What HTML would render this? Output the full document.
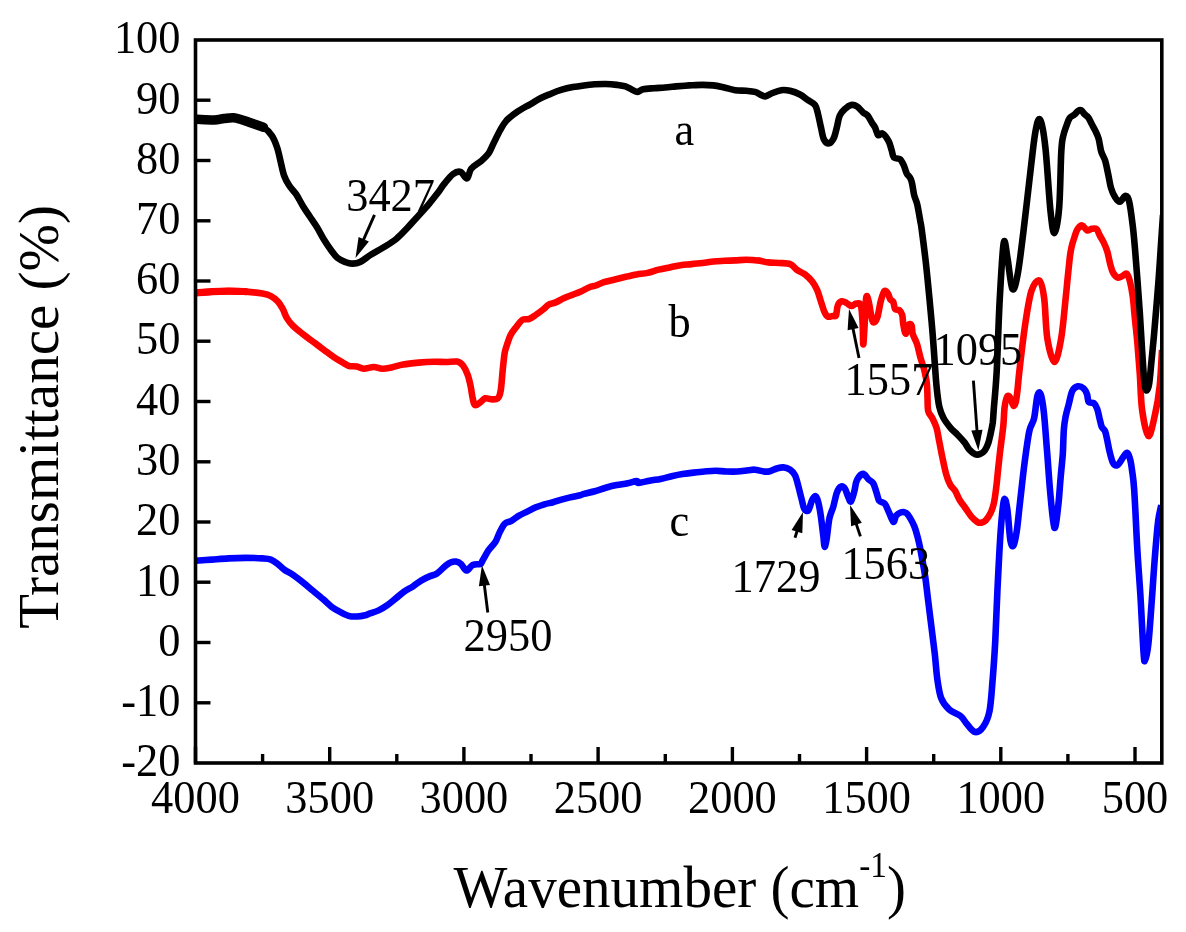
<!DOCTYPE html>
<html><head><meta charset="utf-8"><style>
html,body{margin:0;padding:0;background:#fff;}
svg{display:block;}
text{font-family:"Liberation Serif",serif;fill:#000;}
.tx{filter:grayscale(1);}
</style></head><body>
<svg width="1186" height="932" viewBox="0 0 1186 932">
<rect x="0" y="0" width="1186" height="932" fill="#fff"/>
<clipPath id="cp"><rect x="195.5" y="40.0" width="966.3" height="723.0"/></clipPath>
<g clip-path="url(#cp)"><path d="M195.5,560.8 C198.2,560.6 206.4,560.0 211.9,559.6 C217.4,559.2 223.1,558.7 228.7,558.4 C234.3,558.1 240.0,557.9 245.6,557.9 C251.2,557.9 258.3,558.1 262.5,558.4 C266.7,558.7 268.4,558.7 270.9,559.6 C273.4,560.5 275.4,562.1 277.6,563.8 C279.9,565.5 281.9,567.9 284.4,569.7 C286.9,571.5 289.7,572.7 292.8,574.8 C295.9,576.9 299.5,579.7 302.9,582.4 C306.3,585.1 309.6,588.0 313.0,590.8 C316.4,593.6 320.1,596.6 323.2,599.3 C326.3,602.0 328.8,604.7 331.6,606.8 C334.4,608.9 337.2,610.4 340.0,611.9 C342.8,613.4 345.7,615.0 348.5,615.8 C351.3,616.6 354.1,616.6 356.9,616.5 C359.7,616.4 363.1,615.8 365.3,615.3 C367.5,614.8 367.8,614.2 370.0,613.4 C372.2,612.6 375.7,611.8 378.6,610.4 C381.5,609.0 384.3,607.2 387.2,605.2 C390.1,603.2 392.9,600.7 395.8,598.4 C398.7,596.1 401.5,593.5 404.3,591.5 C407.1,589.5 410.0,588.3 412.9,586.4 C415.8,584.5 418.6,582.0 421.5,580.3 C424.4,578.6 427.5,577.2 430.1,576.1 C432.7,575.0 434.4,575.2 437.0,573.5 C439.6,571.8 443.2,567.6 445.5,565.8 C447.8,564.0 448.8,563.2 450.5,562.5 C452.2,561.8 454.1,561.2 455.8,561.5 C457.6,561.8 459.2,562.5 461.0,564.0 C462.8,565.5 464.6,570.4 466.5,570.5 C468.4,570.6 470.4,566.0 472.7,564.9 C475.0,563.8 478.8,564.7 480.4,564.0 C482.0,563.3 481.2,562.8 482.6,560.5 C484.0,558.2 486.5,553.3 488.6,550.2 C490.8,547.1 493.6,544.7 495.5,541.7 C497.4,538.7 498.1,535.2 499.7,532.2 C501.3,529.2 503.0,525.5 504.9,523.6 C506.8,521.8 508.6,522.4 510.9,521.1 C513.2,519.8 515.9,517.5 518.6,515.9 C521.3,514.3 524.3,513.0 527.2,511.6 C530.1,510.2 532.9,508.5 535.8,507.3 C538.7,506.1 541.5,505.2 544.4,504.3 C547.3,503.4 550.1,503.0 553.0,502.2 C555.9,501.4 558.6,500.4 561.5,499.6 C564.4,498.8 567.0,498.1 570.1,497.4 C573.2,496.7 577.7,495.9 580.0,495.3 C582.3,494.7 581.4,494.6 583.9,493.9 C586.4,493.2 591.1,492.2 594.8,491.2 C598.4,490.2 602.1,488.7 605.8,487.7 C609.5,486.7 613.1,485.8 616.8,485.1 C620.4,484.4 624.4,484.0 627.7,483.3 C631.0,482.6 634.7,481.2 636.5,481.1 C638.3,481.0 636.5,483.0 638.7,482.9 C640.9,482.8 646.0,481.4 649.6,480.7 C653.2,480.0 656.9,479.6 660.6,478.9 C664.3,478.2 668.0,477.1 671.6,476.3 C675.2,475.5 678.9,474.7 682.5,474.1 C686.1,473.5 689.8,473.0 693.5,472.6 C697.2,472.2 700.9,471.8 704.5,471.5 C708.1,471.2 711.8,470.8 715.4,470.8 C719.0,470.8 722.7,471.4 726.4,471.5 C730.1,471.6 733.8,471.7 737.4,471.5 C741.0,471.3 745.4,470.5 748.3,470.2 C751.2,469.9 752.3,469.5 754.9,469.7 C757.5,469.9 761.2,471.2 763.7,471.5 C766.2,471.8 767.8,471.7 770.0,471.2 C772.2,470.7 774.5,469.1 776.7,468.5 C779.0,467.9 781.2,467.2 783.5,467.4 C785.8,467.6 788.3,468.5 790.2,469.8 C792.1,471.1 793.6,472.5 795.0,475.2 C796.4,477.9 797.2,481.9 798.3,486.0 C799.4,490.1 800.7,495.7 801.7,499.5 C802.7,503.3 803.3,507.2 804.4,509.0 C805.5,510.8 807.2,511.7 808.4,510.3 C809.6,508.9 810.7,503.3 811.8,500.9 C812.9,498.5 814.2,496.1 815.2,496.1 C816.2,496.1 817.0,497.8 817.9,500.9 C818.8,503.9 819.7,508.6 820.6,514.4 C821.5,520.2 822.6,530.5 823.3,535.9 C824.0,541.3 824.0,546.2 824.6,546.7 C825.2,547.2 825.9,543.3 826.7,538.6 C827.5,533.9 828.3,523.8 829.4,518.4 C830.5,513.0 832.2,510.6 833.4,506.3 C834.6,502.0 835.6,496.1 836.8,492.8 C838.0,489.5 839.4,487.4 840.8,486.7 C842.1,486.0 843.7,487.0 844.9,488.7 C846.1,490.4 847.2,494.7 848.2,496.8 C849.2,498.9 849.9,502.4 850.9,501.5 C851.9,500.6 853.3,495.0 854.3,491.4 C855.3,487.8 855.5,482.9 857.0,480.0 C858.5,477.1 861.2,474.0 863.1,473.9 C865.0,473.8 866.8,477.7 868.5,479.3 C870.2,480.9 871.9,481.1 873.2,483.3 C874.6,485.6 875.6,489.9 876.6,492.8 C877.6,495.7 877.9,499.1 879.3,500.9 C880.6,502.7 883.1,501.8 884.7,503.6 C886.3,505.4 887.2,508.7 888.7,511.7 C890.2,514.7 892.2,521.1 893.4,521.8 C894.6,522.5 894.9,517.3 896.1,515.7 C897.4,514.1 899.2,512.8 900.9,512.3 C902.6,511.8 904.7,512.0 906.3,513.0 C907.9,514.0 908.9,516.1 910.3,518.4 C911.6,520.6 913.2,523.4 914.4,526.5 C915.6,529.6 916.7,533.5 917.7,537.3 C918.7,541.1 919.2,543.0 920.4,549.4 C921.6,555.8 923.8,567.2 925.1,575.9 C926.4,584.6 927.2,593.1 928.3,601.7 C929.4,610.3 930.4,618.8 931.5,627.4 C932.6,636.0 933.7,644.6 934.7,653.2 C935.7,661.8 936.2,671.4 937.3,678.9 C938.4,686.4 939.2,693.1 941.2,698.2 C943.2,703.3 946.0,706.5 949.2,709.5 C952.4,712.5 957.5,713.6 960.5,716.0 C963.5,718.4 964.5,721.3 966.9,724.0 C969.3,726.7 972.3,731.5 975.0,732.0 C977.7,732.5 980.6,730.7 983.0,727.2 C985.4,723.7 987.9,719.2 989.5,711.1 C991.1,703.0 991.7,690.7 992.7,678.9 C993.7,667.1 994.5,655.3 995.3,640.3 C996.1,625.3 996.6,607.0 997.5,588.8 C998.4,570.5 999.6,545.6 1000.7,530.8 C1001.8,516.0 1002.9,503.9 1004.0,500.2 C1005.1,496.4 1006.1,501.6 1007.2,508.3 C1008.3,515.0 1009.3,534.3 1010.4,540.5 C1011.5,546.7 1012.5,546.9 1013.6,545.3 C1014.7,543.7 1015.8,537.5 1016.8,530.8 C1017.8,524.1 1018.4,516.4 1019.7,505.2 C1021.0,494.0 1022.9,475.7 1024.5,463.4 C1026.1,451.1 1027.7,438.7 1029.3,431.2 C1030.9,423.7 1032.8,424.2 1034.1,418.3 C1035.4,412.4 1036.3,399.8 1037.4,395.8 C1038.5,391.8 1039.5,391.4 1040.6,394.1 C1041.7,396.8 1042.7,402.5 1043.8,411.9 C1044.9,421.3 1045.9,437.1 1047.0,450.5 C1048.1,463.9 1049.0,479.4 1050.2,492.3 C1051.4,505.2 1053.1,525.6 1054.4,527.8 C1055.8,529.9 1057.3,513.5 1058.3,505.2 C1059.3,496.9 1059.8,486.6 1060.6,478.0 C1061.3,469.4 1062.2,462.0 1062.8,453.9 C1063.3,445.8 1063.4,435.3 1063.9,429.1 C1064.4,422.9 1064.8,421.0 1065.6,416.7 C1066.4,412.4 1067.9,407.5 1069.0,403.2 C1070.1,398.9 1070.9,393.6 1072.4,390.8 C1073.9,388.0 1076.1,386.7 1078.0,386.3 C1079.9,385.9 1082.2,387.2 1083.7,388.5 C1085.2,389.8 1086.2,391.9 1087.0,394.2 C1087.8,396.4 1087.6,400.5 1088.7,402.0 C1089.8,403.5 1092.4,402.1 1093.8,403.2 C1095.2,404.3 1096.3,406.4 1097.2,408.8 C1098.1,411.2 1098.7,414.8 1099.4,417.8 C1100.2,420.8 1100.8,424.6 1101.7,426.8 C1102.7,429.1 1104.2,429.0 1105.1,431.3 C1106.0,433.6 1106.5,437.0 1107.3,440.4 C1108.0,443.8 1108.6,447.9 1109.6,451.6 C1110.5,455.4 1111.7,460.6 1113.0,462.9 C1114.3,465.1 1115.8,466.0 1117.5,465.1 C1119.2,464.2 1121.5,459.4 1123.1,457.3 C1124.7,455.2 1125.9,452.5 1127.0,452.7 C1128.1,452.9 1129.1,455.4 1129.9,458.4 C1130.8,461.4 1131.4,465.5 1132.1,470.8 C1132.8,476.1 1133.3,477.3 1134.2,490.0 C1135.1,502.7 1136.2,529.5 1137.2,547.1 C1138.2,564.7 1139.3,577.7 1140.4,595.4 C1141.5,613.1 1142.8,642.6 1143.6,653.3 C1144.4,664.0 1144.4,661.4 1145.2,659.8 C1146.0,658.2 1147.3,653.4 1148.4,643.7 C1149.5,634.0 1150.6,616.3 1151.7,601.8 C1152.8,587.3 1153.8,570.1 1154.9,556.7 C1156.0,543.3 1157.0,529.9 1158.1,521.3 C1159.2,512.7 1160.8,507.9 1161.3,505.2" stroke="#0000ff" stroke-width="6.6" fill="none" stroke-linejoin="round" stroke-linecap="butt"/><path d="M195.5,292.8 C198.2,292.6 206.4,291.9 211.9,291.6 C217.4,291.3 223.1,291.1 228.7,291.1 C234.3,291.1 240.0,291.2 245.6,291.6 C251.2,292.0 258.3,292.9 262.5,293.6 C266.7,294.4 268.4,294.8 270.9,296.1 C273.4,297.4 275.6,299.1 277.6,301.2 C279.6,303.3 281.1,306.0 282.7,308.8 C284.2,311.6 285.2,315.3 286.9,318.1 C288.6,320.9 290.1,322.9 292.8,325.6 C295.5,328.3 299.5,331.4 302.9,334.1 C306.3,336.8 309.6,339.2 313.0,341.7 C316.4,344.2 319.8,346.8 323.2,349.3 C326.6,351.8 330.2,354.7 333.3,356.8 C336.4,358.9 339.2,360.4 341.7,361.9 C344.2,363.4 346.0,365.0 348.5,365.8 C351.0,366.6 354.4,366.0 356.9,366.5 C359.4,367.0 360.8,368.6 363.6,368.7 C366.4,368.8 370.7,367.0 373.8,367.0 C376.9,367.0 379.2,368.6 382.2,368.7 C385.2,368.8 388.1,368.1 391.6,367.4 C395.1,366.7 398.7,365.3 403.2,364.5 C407.7,363.7 413.5,363.1 418.6,362.6 C423.8,362.2 429.6,361.9 434.1,361.8 C438.6,361.7 441.8,362.0 445.6,362.0 C449.5,362.0 454.3,361.0 457.2,361.6 C460.1,362.2 461.2,363.2 463.0,365.5 C464.8,367.8 466.5,371.6 467.8,375.1 C469.1,378.6 469.9,382.8 470.7,386.7 C471.5,390.6 472.0,395.2 472.7,398.3 C473.4,401.4 473.7,404.5 475.0,405.1 C476.3,405.8 478.7,403.3 480.4,402.2 C482.1,401.1 483.4,398.8 485.2,398.3 C487.0,397.8 488.9,399.3 491.0,399.3 C493.1,399.3 496.2,399.8 497.8,398.3 C499.4,396.9 499.9,395.1 500.7,390.6 C501.5,386.1 502.0,377.4 502.6,371.3 C503.2,365.2 503.9,357.9 504.5,353.9 C505.1,349.9 505.2,350.4 506.2,347.3 C507.2,344.2 508.8,338.6 510.5,335.2 C512.2,331.8 514.5,329.3 516.5,326.7 C518.5,324.1 520.4,321.1 522.5,319.8 C524.6,318.5 527.0,319.8 529.3,318.9 C531.6,318.0 533.9,316.2 536.2,314.6 C538.5,313.0 541.0,311.2 543.1,309.5 C545.2,307.8 547.1,305.4 549.1,304.3 C551.1,303.2 552.7,303.6 555.1,302.6 C557.5,301.6 560.8,299.6 563.7,298.3 C566.6,297.0 569.4,296.0 572.3,294.9 C575.1,293.8 577.9,292.8 580.8,291.5 C583.6,290.2 586.9,288.2 589.4,287.2 C591.9,286.2 593.6,286.4 596.0,285.5 C598.4,284.6 600.8,283.1 603.9,282.1 C607.0,281.1 611.1,280.4 614.8,279.5 C618.4,278.6 622.1,277.7 625.8,276.8 C629.5,275.9 633.1,275.0 636.8,274.4 C640.4,273.8 644.1,273.7 647.7,272.9 C651.4,272.1 655.1,270.5 658.7,269.6 C662.4,268.7 666.0,268.1 669.6,267.4 C673.2,266.7 676.9,265.8 680.6,265.2 C684.3,264.6 688.0,264.5 691.6,264.1 C695.2,263.7 698.9,263.4 702.5,263.0 C706.1,262.6 709.8,261.9 713.5,261.5 C717.2,261.1 720.9,261.0 724.5,260.8 C728.1,260.6 731.8,260.6 735.4,260.4 C739.0,260.2 742.7,259.7 746.4,259.7 C750.1,259.7 753.8,259.9 757.4,260.4 C761.0,260.8 764.6,262.0 768.3,262.4 C771.9,262.8 775.6,262.7 779.3,263.0 C782.9,263.3 787.2,262.9 790.2,264.1 C793.2,265.3 794.6,268.2 797.1,270.0 C799.6,271.8 802.8,272.7 805.3,274.7 C807.8,276.7 810.4,279.2 812.4,281.8 C814.4,284.4 815.8,287.0 817.2,290.1 C818.6,293.2 819.5,297.2 820.7,300.7 C821.9,304.2 823.0,308.6 824.2,311.3 C825.4,314.0 826.4,315.8 827.8,316.6 C829.2,317.4 831.1,316.2 832.5,316.0 C833.9,315.8 835.1,317.2 836.0,315.4 C836.9,313.6 836.8,307.8 837.8,305.4 C838.8,303.0 840.4,301.7 841.9,301.3 C843.4,300.9 845.1,302.3 846.7,303.1 C848.3,303.9 849.8,305.9 851.4,306.0 C853.0,306.1 854.5,303.7 856.1,303.6 C857.7,303.5 859.7,302.1 860.8,305.4 C861.9,308.6 862.2,316.6 862.6,323.1 C863.0,329.6 862.9,343.4 863.2,344.4 C863.5,345.4 863.9,336.7 864.4,329.0 C864.9,321.3 865.4,303.0 866.1,298.3 C866.8,293.6 867.6,297.6 868.5,300.7 C869.4,303.8 870.6,313.6 871.5,317.2 C872.4,320.8 872.8,322.5 873.8,322.5 C874.8,322.5 876.2,320.8 877.4,317.2 C878.6,313.6 879.7,305.0 880.9,300.7 C882.1,296.4 883.2,292.4 884.4,291.2 C885.6,290.0 887.0,292.2 888.0,293.6 C889.0,295.0 889.4,298.1 890.3,299.5 C891.2,300.9 892.5,300.3 893.3,301.9 C894.1,303.5 894.1,307.6 895.1,309.0 C896.1,310.4 898.0,309.1 899.2,310.1 C900.4,311.1 901.5,312.5 902.2,314.9 C902.9,317.3 902.7,321.2 903.3,324.3 C903.9,327.4 904.8,333.6 905.7,333.7 C906.6,333.8 907.6,326.3 908.6,324.9 C909.6,323.5 910.9,323.9 911.6,325.5 C912.3,327.1 911.9,331.1 912.8,334.2 C913.7,337.3 915.7,340.1 917.0,344.0 C918.3,347.9 919.3,353.7 920.5,357.9 C921.7,362.1 923.0,364.9 924.0,369.1 C925.0,373.3 926.2,378.5 926.8,383.1 C927.4,387.8 927.3,392.4 927.5,397.0 C927.7,401.6 927.4,407.5 928.2,411.0 C929.0,414.5 930.9,415.2 932.3,418.0 C933.7,420.8 935.3,423.9 936.5,427.8 C937.7,431.8 938.3,436.8 939.3,441.7 C940.3,446.6 941.1,451.6 942.3,457.0 C943.4,462.4 944.9,469.7 946.2,474.3 C947.5,478.9 948.8,482.1 950.3,484.9 C951.8,487.6 953.5,488.2 955.1,490.8 C956.7,493.4 958.0,497.2 959.8,500.2 C961.6,503.1 963.7,505.7 965.7,508.5 C967.7,511.3 969.6,514.5 971.6,516.8 C973.6,519.1 975.9,521.1 977.5,522.1 C979.1,523.1 979.6,523.0 981.0,522.7 C982.4,522.4 984.1,521.9 985.7,520.3 C987.3,518.7 989.1,516.2 990.5,513.2 C991.9,510.3 993.0,507.1 994.0,502.6 C995.0,498.1 995.7,491.6 996.4,486.1 C997.1,480.6 997.5,475.1 998.1,469.6 C998.7,464.1 999.3,458.1 999.9,453.0 C1000.5,447.9 1001.1,443.6 1001.7,438.9 C1002.3,434.2 1002.9,430.0 1003.4,424.7 C1003.9,419.4 1004.0,411.9 1004.6,407.3 C1005.2,402.7 1006.2,398.8 1007.0,397.0 C1007.8,395.2 1008.8,395.8 1009.5,396.5 C1010.2,397.2 1010.8,399.4 1011.5,401.0 C1012.2,402.6 1013.0,406.0 1013.7,406.0 C1014.5,406.0 1015.4,403.7 1016.0,401.0 C1016.6,398.3 1016.9,395.2 1017.5,390.0 C1018.1,384.8 1018.2,381.3 1019.5,370.0 C1020.8,358.7 1023.5,335.5 1025.5,322.3 C1027.5,309.1 1029.2,297.6 1031.5,290.6 C1033.8,283.7 1037.3,279.3 1039.4,280.6 C1041.5,281.9 1042.9,288.9 1044.2,298.5 C1045.5,308.1 1045.6,327.6 1047.3,338.2 C1049.0,348.8 1052.2,362.0 1054.5,362.0 C1056.8,362.0 1059.3,349.1 1061.2,338.2 C1063.1,327.3 1064.7,307.0 1065.8,296.9 C1066.9,286.8 1067.0,284.0 1067.7,277.6 C1068.4,271.2 1069.1,263.5 1069.7,258.3 C1070.3,253.2 1070.8,250.2 1071.6,246.7 C1072.4,243.1 1073.5,239.9 1074.5,237.0 C1075.5,234.1 1076.1,231.2 1077.4,229.3 C1078.7,227.4 1080.6,225.2 1082.2,225.4 C1083.8,225.6 1085.4,229.7 1087.0,230.3 C1088.6,230.9 1090.3,229.0 1091.9,228.8 C1093.5,228.6 1095.4,228.2 1096.7,229.3 C1098.0,230.4 1098.5,233.0 1099.6,235.1 C1100.7,237.2 1102.1,239.2 1103.4,241.9 C1104.7,244.6 1106.2,247.8 1107.3,251.5 C1108.4,255.2 1109.2,260.6 1110.2,264.1 C1111.2,267.7 1111.8,270.6 1113.1,272.8 C1114.4,275.1 1116.3,277.1 1117.9,277.6 C1119.5,278.1 1121.3,276.4 1122.8,275.7 C1124.2,275.0 1125.4,272.8 1126.6,273.7 C1127.8,274.6 1128.8,277.3 1129.8,281.0 C1130.8,284.7 1131.8,289.7 1132.7,296.1 C1133.6,302.6 1134.2,311.8 1135.0,319.7 C1135.8,327.6 1136.6,334.2 1137.4,343.3 C1138.2,352.4 1139.0,362.9 1139.8,374.0 C1140.6,385.1 1140.7,399.5 1142.1,409.8 C1143.5,420.1 1146.3,435.1 1148.4,436.0 C1150.5,436.9 1153.0,423.4 1154.9,415.1 C1156.8,406.8 1158.5,397.0 1159.7,386.1 C1160.9,375.2 1161.6,356.0 1162.0,350.0" stroke="#ff0000" stroke-width="6.6" fill="none" stroke-linejoin="round" stroke-linecap="butt"/><path d="M195.5,292.8 C198.2,292.6 206.4,291.9 211.9,291.6 C217.4,291.3 223.1,291.1 228.7,291.1 C234.3,291.1 242.8,291.5 245.6,291.6" stroke="#ff0000" stroke-width="7.2" fill="none" stroke-linejoin="round" stroke-linecap="round"/><path d="M195.5,119.3 C195.7,119.3 193.8,119.2 196.9,119.3 C200.0,119.4 209.8,120.0 214.3,119.9 C218.8,119.8 220.8,118.8 224.0,118.5 C227.2,118.2 230.8,117.6 233.6,117.8 C236.4,118.0 238.4,118.8 241.0,119.5 C243.6,120.2 245.3,120.9 249.0,122.2 C252.7,123.5 259.6,124.9 263.4,127.2 C267.2,129.5 269.7,132.4 272.0,135.8 C274.3,139.2 275.8,143.5 277.2,147.8 C278.6,152.1 279.5,156.9 280.6,161.5 C281.7,166.1 282.6,171.3 284.0,175.3 C285.4,179.3 287.2,182.4 289.2,185.6 C291.2,188.8 293.8,190.8 296.1,194.2 C298.4,197.6 300.7,202.5 303.0,206.2 C305.3,209.9 307.5,213.1 309.8,216.5 C312.1,219.9 314.4,223.1 316.7,226.8 C319.0,230.5 321.3,235.2 323.6,238.9 C325.9,242.6 328.1,246.0 330.4,249.2 C332.7,252.3 334.7,255.6 337.3,257.8 C339.9,260.0 343.4,261.3 345.9,262.3 C348.4,263.3 350.1,263.7 352.5,263.6 C354.9,263.6 357.1,263.5 360.1,262.0 C363.2,260.5 366.9,257.2 370.8,254.8 C374.7,252.4 379.4,250.0 383.7,247.3 C388.0,244.6 392.6,241.9 396.5,238.7 C400.4,235.5 403.7,231.8 407.3,228.0 C410.9,224.2 414.4,220.1 418.0,216.2 C421.6,212.2 425.5,208.1 428.7,204.3 C431.9,200.5 434.7,197.0 437.3,193.6 C439.9,190.2 441.8,186.9 444.4,183.7 C447.0,180.4 450.3,176.1 453.0,174.1 C455.7,172.1 458.2,171.2 460.5,171.9 C462.8,172.6 465.1,178.9 466.9,178.4 C468.7,177.9 468.9,171.6 471.2,168.7 C473.5,165.8 478.0,163.7 480.9,161.2 C483.8,158.7 486.3,156.7 488.4,153.7 C490.5,150.7 491.7,146.9 493.7,143.0 C495.7,139.1 498.0,133.9 500.2,130.1 C502.4,126.3 503.8,123.5 506.6,120.4 C509.5,117.4 513.4,114.5 517.3,111.8 C521.2,109.1 526.4,106.5 530.2,104.3 C534.0,102.1 536.5,100.3 540.0,98.5 C543.5,96.7 547.4,95.2 551.0,93.7 C554.6,92.2 558.2,90.8 561.9,89.7 C565.5,88.6 569.2,87.8 572.9,87.1 C576.6,86.4 580.2,85.9 583.9,85.4 C587.5,84.9 591.1,84.5 594.8,84.3 C598.4,84.1 602.1,83.9 605.8,84.0 C609.5,84.1 613.5,84.5 616.8,84.9 C620.1,85.3 623.0,85.6 625.5,86.4 C628.0,87.2 630.1,88.8 632.1,89.7 C634.1,90.6 635.8,92.0 637.6,91.9 C639.4,91.8 640.4,89.9 643.1,89.3 C645.8,88.7 650.4,88.5 654.0,88.2 C657.6,87.9 661.3,87.8 665.0,87.5 C668.7,87.2 672.0,86.8 676.0,86.4 C680.0,86.1 684.7,85.7 689.1,85.4 C693.5,85.2 698.3,84.9 702.3,84.9 C706.3,84.9 709.6,85.0 713.2,85.4 C716.9,85.8 720.5,86.7 724.2,87.5 C727.9,88.3 731.6,89.7 735.2,90.2 C738.9,90.8 742.8,90.5 746.1,90.8 C749.4,91.1 752.3,91.2 754.9,91.9 C757.5,92.6 759.7,94.5 761.5,95.2 C763.3,95.9 764.1,96.7 765.9,96.3 C767.7,95.9 770.0,94.0 772.5,93.0 C775.0,92.0 778.3,90.6 781.2,90.2 C784.1,89.8 786.9,90.1 790.0,90.8 C793.1,91.5 797.1,93.0 800.0,94.5 C802.9,96.0 805.0,98.0 807.5,99.8 C810.0,101.5 813.2,102.6 815.0,105.0 C816.8,107.4 817.0,110.2 818.0,114.0 C819.0,117.8 820.0,123.3 821.0,127.6 C822.0,131.9 822.6,137.0 824.0,139.6 C825.4,142.2 827.7,143.6 829.3,143.3 C830.9,143.1 832.5,140.7 833.8,138.1 C835.0,135.5 835.8,131.4 836.8,127.6 C837.8,123.8 838.4,118.6 839.8,115.5 C841.2,112.4 843.2,110.5 845.1,108.8 C847.0,107.0 849.1,105.4 851.1,105.0 C853.1,104.6 855.1,105.2 857.1,106.5 C859.1,107.8 861.4,111.0 863.1,112.5 C864.9,114.0 866.1,113.8 867.6,115.5 C869.1,117.2 870.9,121.0 872.1,123.0 C873.4,125.0 874.1,125.6 875.1,127.6 C876.1,129.6 876.9,134.1 878.1,135.1 C879.4,136.1 880.9,132.6 882.6,133.6 C884.4,134.6 887.1,138.3 888.6,141.1 C890.1,143.8 890.7,147.3 891.6,150.1 C892.5,152.8 892.5,156.1 893.9,157.6 C895.3,159.1 898.3,157.8 899.9,159.1 C901.5,160.3 902.6,162.7 903.7,165.1 C904.8,167.5 905.5,170.9 906.7,173.4 C908.0,175.9 910.0,176.5 911.2,180.1 C912.5,183.7 913.2,191.2 914.2,195.2 C915.2,199.2 916.2,199.9 917.2,204.2 C918.2,208.4 919.5,216.6 920.2,220.7 C920.9,224.8 920.7,222.0 921.6,228.8 C922.5,235.6 924.3,249.2 925.7,261.4 C927.1,273.6 928.7,290.8 929.8,302.2 C930.9,313.6 931.5,320.7 932.3,330.0 C933.1,339.3 933.7,348.6 934.4,357.9 C935.1,367.2 935.7,377.8 936.5,385.9 C937.3,394.0 938.1,401.4 939.3,406.8 C940.5,412.2 941.6,414.5 943.5,418.0 C945.4,421.5 948.2,425.0 950.5,427.8 C952.8,430.6 955.2,432.3 957.5,434.7 C959.8,437.1 962.5,439.9 964.5,442.4 C966.5,444.9 967.4,447.5 969.2,449.5 C971.0,451.5 973.3,453.4 975.1,454.2 C976.9,455.0 978.2,454.8 979.8,454.2 C981.4,453.6 983.2,452.5 984.6,450.7 C986.0,448.9 987.1,446.4 988.1,443.6 C989.1,440.9 989.7,437.7 990.5,434.2 C991.3,430.7 992.2,426.6 992.8,422.4 C993.3,418.2 993.1,417.6 993.8,409.1 C994.4,400.6 995.7,389.6 996.7,371.4 C997.7,353.2 998.5,321.4 999.7,300.0 C1000.9,278.6 1002.4,249.8 1003.7,242.9 C1005.0,236.0 1006.2,251.1 1007.6,258.8 C1009.0,266.5 1010.7,286.4 1012.4,289.0 C1014.1,291.6 1015.8,284.4 1017.6,274.7 C1019.5,265.0 1021.5,246.9 1023.5,231.0 C1025.5,215.1 1027.5,195.9 1029.5,179.4 C1031.5,162.9 1033.6,141.7 1035.4,131.8 C1037.2,121.9 1038.5,117.2 1040.2,119.8 C1041.9,122.4 1043.7,132.4 1045.4,147.6 C1047.1,162.8 1049.0,197.0 1050.5,211.2 C1052.0,225.4 1053.0,233.7 1054.5,233.0 C1056.0,232.3 1058.1,220.8 1059.2,207.2 C1060.3,193.6 1060.6,163.3 1061.3,151.5 C1062.0,139.7 1062.3,140.4 1063.2,136.1 C1064.1,131.8 1065.3,128.8 1066.4,125.8 C1067.5,122.8 1068.4,119.8 1069.7,118.0 C1071.0,116.2 1072.8,116.0 1074.2,114.8 C1075.6,113.6 1076.8,111.8 1078.0,111.0 C1079.2,110.2 1080.2,109.8 1081.3,110.3 C1082.4,110.8 1083.3,113.0 1084.5,114.2 C1085.7,115.4 1087.1,115.8 1088.3,117.4 C1089.5,119.0 1090.4,121.5 1091.6,123.8 C1092.8,126.0 1094.2,128.4 1095.4,130.9 C1096.6,133.4 1097.6,135.2 1098.6,138.6 C1099.6,142.0 1100.1,147.8 1101.2,151.5 C1102.3,155.2 1103.9,156.6 1105.1,160.5 C1106.3,164.4 1107.3,170.2 1108.3,174.7 C1109.3,179.2 1109.8,183.9 1110.9,187.6 C1112.0,191.3 1113.5,194.7 1115.0,197.1 C1116.5,199.5 1117.9,202.0 1119.7,201.8 C1121.5,201.6 1124.0,195.9 1125.6,195.9 C1127.2,195.9 1128.0,196.9 1129.2,201.8 C1130.4,206.7 1131.7,217.5 1132.7,225.4 C1133.7,233.3 1134.2,240.0 1135.0,249.0 C1135.8,258.0 1136.6,269.0 1137.4,279.6 C1138.2,290.2 1139.0,300.8 1139.8,312.6 C1140.6,324.4 1141.3,338.6 1142.1,350.4 C1142.9,362.2 1143.7,376.7 1144.5,383.4 C1145.3,390.1 1146.0,390.5 1146.8,390.5 C1147.6,390.5 1148.4,388.5 1149.2,383.4 C1150.0,378.3 1150.8,367.7 1151.6,359.8 C1152.4,351.9 1153.1,344.9 1153.9,336.2 C1154.7,327.5 1155.5,317.3 1156.3,307.9 C1157.1,298.5 1157.8,290.2 1158.6,279.6 C1159.4,269.0 1160.3,255.0 1161.0,244.2 C1161.7,233.4 1162.7,219.9 1163.0,215.0" stroke="#000000" stroke-width="6.6" fill="none" stroke-linejoin="round" stroke-linecap="butt"/><path d="M195.5,119.3 C195.7,119.3 193.8,119.2 196.9,119.3 C200.0,119.4 209.8,120.0 214.3,119.9 C218.8,119.8 220.8,118.8 224.0,118.5 C227.2,118.2 230.8,117.6 233.6,117.8 C236.4,118.0 238.4,118.8 241.0,119.5 C243.6,120.2 245.3,120.9 249.0,122.2 C252.7,123.5 261.0,126.4 263.4,127.2" stroke="#000000" stroke-width="9.5" fill="none" stroke-linejoin="round" stroke-linecap="round"/></g>
<g stroke="#000" stroke-width="3.6" fill="none" stroke-linejoin="miter">
<rect x="195.5" y="40.0" width="966.3" height="723.0"/>
</g><g stroke="#000" stroke-width="3.4" fill="none" stroke-linecap="butt"><line x1="195.5" y1="763.0" x2="195.5" y2="747"/><line x1="329.7" y1="763.0" x2="329.7" y2="747"/><line x1="463.9" y1="763.0" x2="463.9" y2="747"/><line x1="598.1" y1="763.0" x2="598.1" y2="747"/><line x1="732.4" y1="763.0" x2="732.4" y2="747"/><line x1="866.6" y1="763.0" x2="866.6" y2="747"/><line x1="1000.8" y1="763.0" x2="1000.8" y2="747"/><line x1="1135.0" y1="763.0" x2="1135.0" y2="747"/><line x1="262.6" y1="763.0" x2="262.6" y2="754"/><line x1="396.8" y1="763.0" x2="396.8" y2="754"/><line x1="531.0" y1="763.0" x2="531.0" y2="754"/><line x1="665.3" y1="763.0" x2="665.3" y2="754"/><line x1="799.5" y1="763.0" x2="799.5" y2="754"/><line x1="933.7" y1="763.0" x2="933.7" y2="754"/><line x1="1067.9" y1="763.0" x2="1067.9" y2="754"/><line x1="195.5" y1="100.2" x2="210.5" y2="100.2"/><line x1="195.5" y1="160.5" x2="210.5" y2="160.5"/><line x1="195.5" y1="220.8" x2="210.5" y2="220.8"/><line x1="195.5" y1="281.0" x2="210.5" y2="281.0"/><line x1="195.5" y1="341.2" x2="210.5" y2="341.2"/><line x1="195.5" y1="401.5" x2="210.5" y2="401.5"/><line x1="195.5" y1="461.8" x2="210.5" y2="461.8"/><line x1="195.5" y1="522.0" x2="210.5" y2="522.0"/><line x1="195.5" y1="582.2" x2="210.5" y2="582.2"/><line x1="195.5" y1="642.5" x2="210.5" y2="642.5"/><line x1="195.5" y1="702.8" x2="210.5" y2="702.8"/></g>
<g><line x1="374.5" y1="214.8" x2="362.9" y2="241.1" stroke="#000" stroke-width="2.9"/><polygon points="355.5,258.0 358.6,237.0 368.9,241.5" fill="#000"/><line x1="859.0" y1="358.0" x2="852.7" y2="327.1" stroke="#000" stroke-width="2.9"/><polygon points="849.0,309.0 858.6,328.0 847.6,330.2" fill="#000"/><line x1="973.4" y1="380.7" x2="977.1" y2="432.0" stroke="#000" stroke-width="2.9"/><polygon points="978.4,450.5 971.3,430.5 982.5,429.7" fill="#000"/><line x1="795.0" y1="537.8" x2="797.5" y2="529.7" stroke="#000" stroke-width="2.9"/><polygon points="803.0,512.0 802.3,533.2 791.6,529.9" fill="#000"/><line x1="860.4" y1="536.4" x2="855.8" y2="522.6" stroke="#000" stroke-width="2.9"/><polygon points="850.0,505.0 861.8,522.7 851.1,526.2" fill="#000"/><line x1="487.8" y1="612.5" x2="484.2" y2="583.7" stroke="#000" stroke-width="2.9"/><polygon points="481.9,565.3 490.0,584.9 478.9,586.3" fill="#000"/></g>
<g class="tx"><text transform="translate(180.5,53.2) scale(0.965,1)" text-anchor="end" font-size="46">100</text><text transform="translate(180.5,113.5) scale(0.965,1)" text-anchor="end" font-size="46">90</text><text transform="translate(180.5,173.7) scale(0.965,1)" text-anchor="end" font-size="46">80</text><text transform="translate(180.5,233.9) scale(0.965,1)" text-anchor="end" font-size="46">70</text><text transform="translate(180.5,294.2) scale(0.965,1)" text-anchor="end" font-size="46">60</text><text transform="translate(180.5,354.4) scale(0.965,1)" text-anchor="end" font-size="46">50</text><text transform="translate(180.5,414.7) scale(0.965,1)" text-anchor="end" font-size="46">40</text><text transform="translate(180.5,474.9) scale(0.965,1)" text-anchor="end" font-size="46">30</text><text transform="translate(180.5,535.2) scale(0.965,1)" text-anchor="end" font-size="46">20</text><text transform="translate(180.5,595.5) scale(0.965,1)" text-anchor="end" font-size="46">10</text><text transform="translate(180.5,655.7) scale(0.965,1)" text-anchor="end" font-size="46">0</text><text transform="translate(180.5,716.0) scale(0.965,1)" text-anchor="end" font-size="46">-10</text><text transform="translate(180.5,776.2) scale(0.965,1)" text-anchor="end" font-size="46">-20</text><text transform="translate(195.5,813.4) scale(0.965,1)" text-anchor="middle" font-size="46">4000</text><text transform="translate(329.7,813.4) scale(0.965,1)" text-anchor="middle" font-size="46">3500</text><text transform="translate(463.9,813.4) scale(0.965,1)" text-anchor="middle" font-size="46">3000</text><text transform="translate(598.1,813.4) scale(0.965,1)" text-anchor="middle" font-size="46">2500</text><text transform="translate(732.4,813.4) scale(0.965,1)" text-anchor="middle" font-size="46">2000</text><text transform="translate(866.6,813.4) scale(0.965,1)" text-anchor="middle" font-size="46">1500</text><text transform="translate(1000.8,813.4) scale(0.965,1)" text-anchor="middle" font-size="46">1000</text><text transform="translate(1135.0,813.4) scale(0.965,1)" text-anchor="middle" font-size="46">500</text><text transform="translate(346.2,211.0) scale(0.965,1)" text-anchor="start" font-size="46">3427</text><text transform="translate(674.5,144.6) scale(0.965,1)" text-anchor="start" font-size="46">a</text><text transform="translate(668.5,336.5) scale(0.965,1)" text-anchor="start" font-size="46">b</text><text transform="translate(669.5,535.6) scale(0.965,1)" text-anchor="start" font-size="46">c</text><text transform="translate(844.6,394.9) scale(0.965,1)" text-anchor="start" font-size="46">1557</text><text transform="translate(933.5,365.3) scale(0.965,1)" text-anchor="start" font-size="46">1095</text><text transform="translate(731.6,592.3) scale(0.965,1)" text-anchor="start" font-size="46">1729</text><text transform="translate(841.4,578.5) scale(0.965,1)" text-anchor="start" font-size="46">1563</text><text transform="translate(463.6,650.9) scale(0.965,1)" text-anchor="start" font-size="46">2950</text></g>
<text class="tx" transform="translate(453.6,906.6) scale(0.951,1)" font-size="60">Wavenumber (cm<tspan font-size="35" dy="-29.5">-1</tspan><tspan dy="29.5">)</tspan></text>
<text class="tx" transform="translate(58.3,628.8) rotate(-90) scale(0.983,1)" font-size="58">Transmittance (%)</text>
</svg>
</body></html>
